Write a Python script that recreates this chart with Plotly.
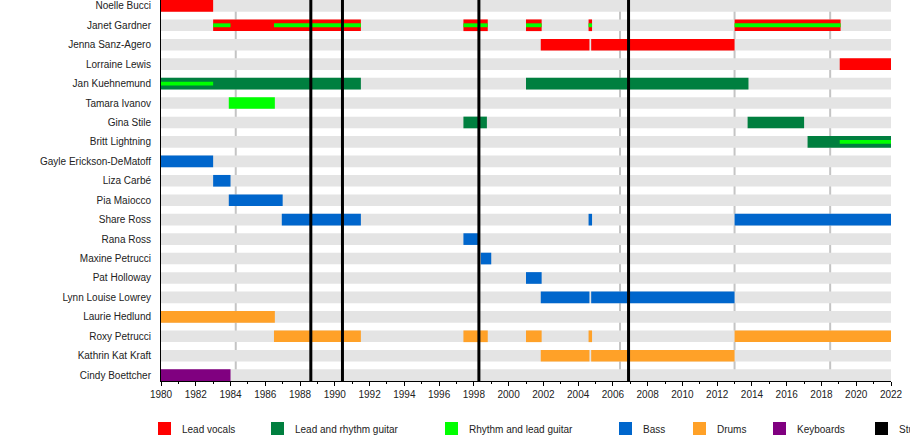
import plotly.graph_objects as go

members = [
    "Noelle Bucci", "Janet Gardner", "Jenna Sanz-Agero", "Lorraine Lewis",
    "Jan Kuehnemund", "Tamara Ivanov", "Gina Stile", "Britt Lightning",
    "Gayle Erickson-DeMatoff", "Liza Carbé", "Pia Maiocco", "Share Ross",
    "Rana Ross", "Maxine Petrucci", "Pat Holloway", "Lynn Louise Lowrey",
    "Laurie Hedlund", "Roxy Petrucci", "Kathrin Kat Kraft", "Cindy Boettcher",
]

# (member, start, end) in decimal years
lead_vocals = [
    ("Noelle Bucci", 1980.0, 1983.0),
    ("Janet Gardner", 1983.0, 1991.5),
    ("Janet Gardner", 1997.4, 1998.8),
    ("Janet Gardner", 2001.0, 2001.9),
    ("Janet Gardner", 2004.6, 2004.8),
    ("Janet Gardner", 2013.0, 2019.1),
    ("Jenna Sanz-Agero", 2001.85, 2004.65),
    ("Jenna Sanz-Agero", 2004.75, 2013.0),
    ("Lorraine Lewis", 2019.05, 2022.0),
]
lead_guitar = [
    ("Jan Kuehnemund", 1980.0, 1991.5),
    ("Jan Kuehnemund", 2001.0, 2013.8),
    ("Gina Stile", 1997.4, 1998.75),
    ("Gina Stile", 2013.75, 2017.0),
    ("Britt Lightning", 2017.2, 2022.0),
]
rhythm_guitar = [
    ("Tamara Ivanov", 1983.9, 1986.55),
]
# secondary role, drawn as a thin stripe inside the main bar
rhythm_stripe = [
    ("Janet Gardner", 1983.0, 1984.0),
    ("Janet Gardner", 1986.5, 1991.5),
    ("Janet Gardner", 1997.4, 1998.8),
    ("Janet Gardner", 2001.0, 2001.9),
    ("Janet Gardner", 2004.6, 2004.8),
    ("Janet Gardner", 2013.0, 2019.1),
    ("Jan Kuehnemund", 1980.0, 1983.0),
    ("Britt Lightning", 2019.05, 2022.0),
]
bass = [
    ("Gayle Erickson-DeMatoff", 1980.0, 1983.0),
    ("Liza Carbé", 1983.0, 1984.0),
    ("Pia Maiocco", 1983.9, 1987.0),
    ("Share Ross", 1986.95, 1991.5),
    ("Share Ross", 2004.6, 2004.8),
    ("Share Ross", 2013.0, 2022.0),
    ("Rana Ross", 1997.4, 1998.3),
    ("Maxine Petrucci", 1998.4, 1999.0),
    ("Pat Holloway", 2001.0, 2001.9),
    ("Lynn Louise Lowrey", 2001.85, 2004.65),
    ("Lynn Louise Lowrey", 2004.75, 2013.0),
]
drums = [
    ("Laurie Hedlund", 1980.0, 1986.55),
    ("Roxy Petrucci", 1986.5, 1991.5),
    ("Roxy Petrucci", 1997.4, 1998.8),
    ("Roxy Petrucci", 2001.0, 2001.9),
    ("Roxy Petrucci", 2004.6, 2004.8),
    ("Roxy Petrucci", 2013.0, 2022.0),
    ("Kathrin Kat Kraft", 2001.85, 2004.65),
    ("Kathrin Kat Kraft", 2004.75, 2013.0),
]
keyboards = [
    ("Cindy Boettcher", 1980.0, 1984.0),
]

studio_albums = [1988.62, 1990.44, 1998.29, 2006.9]
other_releases = [1984.3, 2006.41, 2013.0, 2018.5]

year_start, year_end = 1980, 2022

roles = [
    ("Lead vocals", "#ff0000", lead_vocals),
    ("Lead and rhythm guitar", "#007f3f", lead_guitar),
    ("Rhythm and lead guitar", "#00ff00", rhythm_guitar),
    ("Bass", "#0066cc", bass),
    ("Drums", "#ffa128", drums),
    ("Keyboards", "#800080", keyboards),
]

BAR_W = 0.6
row = {name: i for i, name in enumerate(members)}

fig = go.Figure()


def add_segments(segs, color, width):
    fig.add_trace(go.Bar(
        orientation="h",
        y=[row[m] for m, s, e in segs],
        base=[s for m, s, e in segs],
        x=[e - s for m, s, e in segs],
        width=width,
        marker_color=color,
        marker_line_width=0,
        showlegend=False,
        hoverinfo="skip",
    ))


for name, color, segs in roles:
    add_segments(segs, color, BAR_W)
add_segments(rhythm_stripe, "#00ff00", 0.2)

# grey background band for each member row
for i, _ in enumerate(members):
    fig.add_shape(type="rect", xref="x", yref="y", layer="below",
                  x0=year_start, x1=year_end, y0=i - BAR_W / 2, y1=i + BAR_W / 2,
                  fillcolor="#e4e4e4", line_width=0)

for yr in other_releases:
    fig.add_shape(type="line", xref="x", yref="paper", layer="below",
                  x0=yr, x1=yr, y0=0, y1=1,
                  line=dict(color="#c4c4c4", width=2))

for yr in studio_albums:
    fig.add_shape(type="line", xref="x", yref="paper", layer="above",
                  x0=yr, x1=yr, y0=0, y1=1,
                  line=dict(color="black", width=3))

# legend drawn by hand so it runs off the right edge like the original
plot_l, plot_r, plot_t, plot_b = 161, 891, 0, 381
legend_x = [158, 271, 445, 619, 693, 773, 875]
legend_items = [(n, c) for n, c, _ in roles] + [("Studio albums", "black")]


def px(x):
    return (x - plot_l) / (plot_r - plot_l)


def py(y):
    return (plot_b - y) / (plot_b - plot_t)


for lx, (label, color) in zip(legend_x, legend_items):
    fig.add_shape(type="rect", xref="paper", yref="paper",
                  x0=px(lx), x1=px(lx + 13), y0=py(435), y1=py(422),
                  fillcolor=color, line_width=0)
    fig.add_annotation(xref="paper", yref="paper", x=px(lx + 22), y=py(429),
                       text=label, showarrow=False, xanchor="left", yanchor="middle",
                       font=dict(size=10, color="#222"))

fig.update_layout(
    width=910,
    height=440,
    margin=dict(l=plot_l, r=910 - plot_r, t=plot_t, b=440 - plot_b),
    plot_bgcolor="white",
    paper_bgcolor="white",
    barmode="overlay",
    font=dict(family="Liberation Sans, Arial, sans-serif", size=10, color="#222"),
    xaxis=dict(
        range=[year_start, year_end],
        tick0=year_start,
        dtick=2,
        ticks="outside",
        ticklen=4,
        tickcolor="black",
        minor=dict(dtick=1, ticks="outside", ticklen=2, tickcolor="black"),
        showgrid=False,
        zeroline=False,
        showline=True,
        linecolor="black",
        linewidth=1,
        tickfont=dict(size=10),
    ),
    yaxis=dict(
        range=[len(members) - 1 + BAR_W / 2, -BAR_W / 2],
        tickmode="array",
        tickvals=list(range(len(members))),
        ticktext=members,
        ticklabelstandoff=7,
        showgrid=False,
        zeroline=False,
        showline=True,
        linecolor="black",
        linewidth=1,
        tickfont=dict(size=10),
    ),
)

# page has a default 8px body margin; drop it so the 910x440 figure fills the window
fig.write_html(
    "out.html",
    config={"displayModeBar": False},
    post_script="document.body.style.margin = '0';",
)
